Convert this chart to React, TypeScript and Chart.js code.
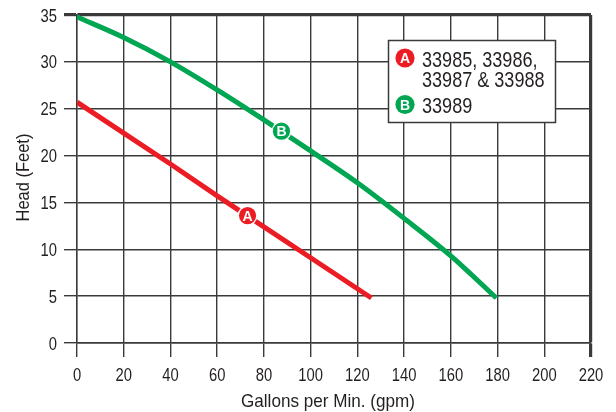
import React, { useEffect, useRef } from "react";
import { Chart, registerables } from "chart.js";

Chart.register(...registerables);

const gpmA = [0, 20, 40, 60, 80, 100, 126];
const headA = [25.7, 22.4, 19.1, 15.7, 12.4, 9.1, 4.8];
const gpmB = [0, 20, 40, 60, 80, 100, 120, 140, 160, 179.5];
const headB = [34.8, 32.6, 30.0, 27.0, 23.8, 20.5, 17.1, 13.3, 9.3, 4.8];
const markerLetters = ["A", "B"];
const markerGpm = [73, 87.5];
const markerHead = [13.6, 22.6];
const legendLines = [["33985, 33986,", "33987 & 33988"], ["33989"]];
const xTitle = "Gallons per Min. (gpm)";
const yTitle = "Head (Feet)";

const RED = "#ec1c24";
const GREEN = "#00a651";
const GRID = "#3a3a3a";
const TEXT = "#231f20";
const FONT = "'Liberation Sans', Arial, Helvetica, sans-serif";
const colors = [RED, GREEN];

function drawText(
  ctx: CanvasRenderingContext2D,
  text: string,
  x: number,
  y: number,
  size: number,
  sx: number,
  align: CanvasTextAlign,
  rotate = 0
) {
  ctx.save();
  ctx.translate(x, y);
  if (rotate) ctx.rotate(rotate);
  ctx.scale(sx, 1);
  ctx.font = size + "px " + FONT;
  ctx.fillStyle = TEXT;
  ctx.textAlign = align;
  ctx.textBaseline = "alphabetic";
  ctx.fillText(text, 0, 0);
  ctx.restore();
}

function drawBadge(ctx: CanvasRenderingContext2D, cx: number, cy: number, color: string, letter: string, ring: boolean) {
  ctx.save();
  if (ring) {
    ctx.beginPath();
    ctx.arc(cx, cy, 10, 0, Math.PI * 2);
    ctx.fillStyle = "#ffffff";
    ctx.fill();
  }
  ctx.beginPath();
  ctx.arc(cx, cy, ring ? 8.6 : 9.6, 0, Math.PI * 2);
  ctx.fillStyle = color;
  ctx.fill();
  ctx.fillStyle = "#ffffff";
  ctx.font = "bold 14px " + FONT;
  ctx.textAlign = "center";
  ctx.textBaseline = "alphabetic";
  ctx.fillText(letter, cx, cy + 5);
  ctx.restore();
}

const overlay = {
  id: "overlay",
  afterDraw(chart: any) {
    const { ctx, scales } = chart;
    const x = scales.x;
    const y = scales.y;
    // tick labels
    x.ticks.forEach((t: any) => {
      drawText(ctx, String(t.value), x.getPixelForValue(t.value), 380.5, 18.5, 0.8, "center");
    });
    y.ticks.forEach((t: any) => {
      drawText(ctx, String(t.value), 57, y.getPixelForValue(t.value) + 6.6, 18.5, 0.8, "right");
    });
    // axis titles
    drawText(ctx, xTitle, 328, 406.7, 18.5, 0.925, "center");
    drawText(ctx, yTitle, 29.3, 177.5, 18.5, 0.89, "center", -Math.PI / 2);
    // markers on curves
    markerLetters.forEach((l, i) => {
      drawBadge(ctx, x.getPixelForValue(markerGpm[i]), y.getPixelForValue(markerHead[i]), colors[i], l, true);
    });
    // legend
    ctx.save();
    ctx.fillStyle = "#ffffff";
    ctx.fillRect(388, 40, 168, 82);
    ctx.strokeStyle = GRID;
    ctx.lineWidth = 1.5;
    ctx.strokeRect(388.5, 40.5, 167, 82);
    ctx.restore();
    const baselines = [[66.5, 86.7], [112.7]];
    const badgeY = [58, 104.5];
    legendLines.forEach((lines, i) => {
      drawBadge(ctx, 405, badgeY[i], colors[i], markerLetters[i], false);
      lines.forEach((t, j) => drawText(ctx, t, 422, baselines[i][j], 22.3, 0.81, "left"));
    });
  },
};

export default function App() {
  const ref = useRef<HTMLCanvasElement | null>(null);
  useEffect(() => {
    if (!ref.current) return;
    const chart = new Chart(ref.current, {
      type: "line",
      data: {
        datasets: [
          {
            data: gpmA.map((g, i) => ({ x: g, y: headA[i] })),
            borderColor: RED,
            borderWidth: 5,
            pointRadius: 0,
            borderCapStyle: "butt",
            tension: 0,
          },
          {
            data: gpmB.map((g, i) => ({ x: g, y: headB[i] })),
            borderColor: GREEN,
            borderWidth: 5,
            pointRadius: 0,
            borderCapStyle: "butt",
            cubicInterpolationMode: "monotone",
          },
        ],
      },
      options: {
        animation: false,
        responsive: false,
        devicePixelRatio: 1,
        layout: { padding: { top: 15, right: 25, left: 0, bottom: 0 } },
        plugins: { legend: { display: false }, tooltip: { enabled: false } },
        scales: {
          x: {
            type: "linear",
            min: 0,
            max: 220,
            afterFit: (s: any) => {
              s.height = 69;
            },
            ticks: { stepSize: 20, display: false },
            grid: {
              color: GRID,
              tickLength: 14,
              lineWidth: (c: any) => (c.tick && c.tick.value === 220 ? 3.2 : 1.4),
            },
            border: { color: GRID, width: 1.4 },
            title: { display: false },
          },
          y: {
            type: "linear",
            min: 0,
            max: 35,
            afterFit: (s: any) => {
              s.width = 77;
            },
            ticks: { stepSize: 5, display: false },
            grid: {
              color: GRID,
              tickLength: 13,
              lineWidth: (c: any) => (c.tick && c.tick.value === 35 ? 3.2 : 1.4),
            },
            border: { color: GRID, width: 1.4 },
            title: { display: false },
          },
        },
      },
      plugins: [overlay],
    } as any);
    return () => chart.destroy();
  }, []);
  return (
    <div style={{ position: "fixed", left: 0, top: 0, width: 616, height: 412, background: "#fff" }}>
      <canvas ref={ref} width={616} height={412} style={{ display: "block" }} />
    </div>
  );
}
